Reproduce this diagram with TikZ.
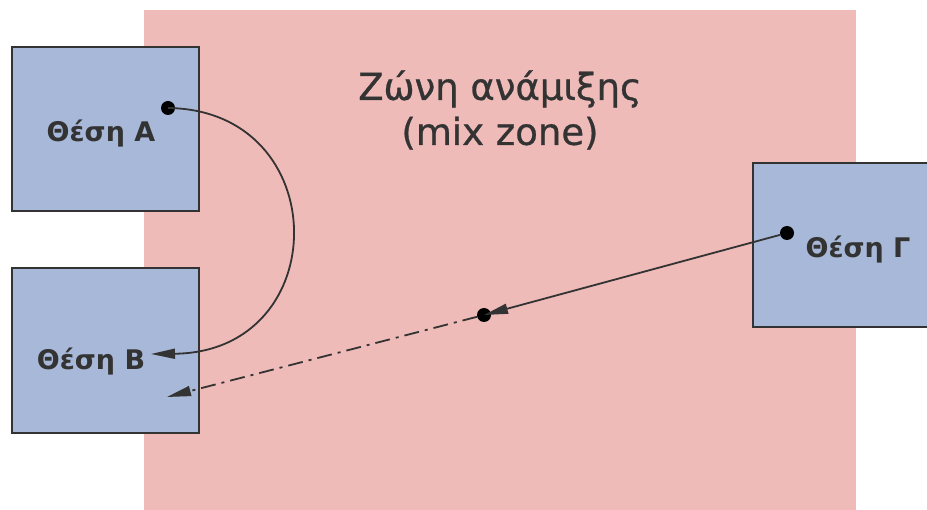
\documentclass[tikz,border=0pt]{standalone}
\usepackage{fontspec}
\setmainfont{DejaVu Sans}
\newfontfamily\titlefont[FakeBold=0.8]{DejaVu Sans}
\usetikzlibrary{arrows.meta}
\definecolor{zonepink}{HTML}{EEBBB8}
\definecolor{boxblue}{HTML}{A8B8D9}
\definecolor{txtgray}{HTML}{333333}
\tikzset{
  place/.style={draw=txtgray, line width=2pt, fill=boxblue, inner sep=0pt, anchor=north west},
  placelabel/.style={font=\bfseries\fontsize{27}{32}\selectfont, text=txtgray, inner sep=0pt},
  pt/.style={circle, fill=black, inner sep=0pt, minimum size=14pt},
  conn/.style={line width=1.8pt, draw=black!80, -{Triangle[length=24pt,width=10pt]}},
}
\begin{document}
\begin{tikzpicture}[x=1pt,y=-1pt]
\useasboundingbox (0,0) rectangle (927,510);
\node[fill=zonepink, inner sep=0pt, minimum width=712pt, minimum height=505pt, anchor=north west] (zone) at (144,10) {};
\node[place, minimum width=187pt, minimum height=164pt] (boxA) at (11,46) {};
\node[place, minimum width=187pt, minimum height=165pt] (boxB) at (11,267) {};
\node[place, minimum width=190pt, minimum height=164pt] (boxC) at (752,162) {};
\node[placelabel] (labA) at (101,134) {Θέση A};
\node[placelabel] (labB) at (91,362) {Θέση B};
\node[placelabel] (labC) at (858,250) {Θέση Γ};
\node[text=txtgray, font=\titlefont\fontsize{37}{45}\selectfont, align=center] (title) at (500,110) {Ζώνη ανάμιξης\\(mix zone)};
\node[pt] (dA) at (168,108) {};
\node[pt] (dC) at (787,233) {};
\node[pt] (dM) at (484,315) {};
\coordinate (endB) at (151,354);
\coordinate (endB2) at (167,397);
\draw[conn] (dA.center) .. controls (335,110) and (335,352) .. (endB);
\draw[conn] (dC) -- (dM.center);
\draw[conn, dash pattern=on 15pt off 6pt on 3pt off 6pt] (dM) -- (endB2);
\end{tikzpicture}
\end{document}
